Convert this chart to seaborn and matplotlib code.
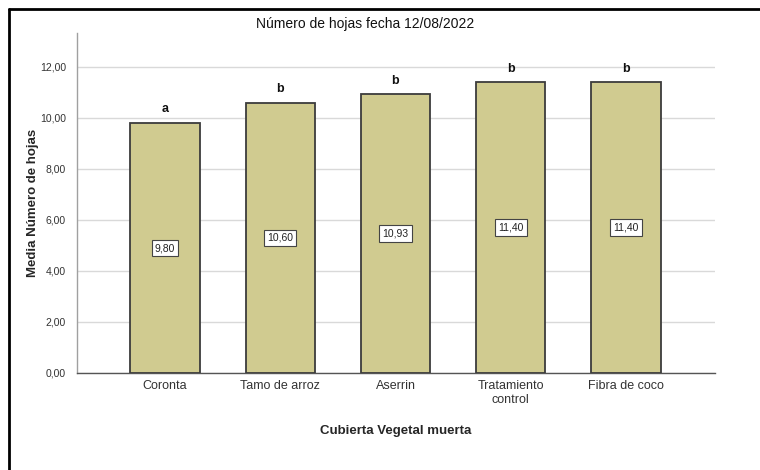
import matplotlib
matplotlib.use("Agg")
import matplotlib.pyplot as plt
import seaborn as sns
import pandas as pd
from matplotlib.lines import Line2D

categories = ["Coronta", "Tamo de arroz", "Aserrin", "Tratamiento\ncontrol", "Fibra de coco"]
values = [9.80, 10.60, 10.93, 11.40, 11.40]
letters = ["a", "b", "b", "b", "b"]
yticks = [0, 2, 4, 6, 8, 10, 12]

sns.set_style("white")
plt.rcParams['font.family'] = ['Liberation Sans', 'DejaVu Sans']

df = pd.DataFrame({"cat": categories, "val": values})

fig = plt.figure(figsize=(7.6, 4.7), dpi=100)
ax = fig.add_axes([77/760, 1-373/470, (715-77)/760, (373-33)/470])

sns.barplot(data=df, x="cat", y="val", ax=ax, color="#d0cb90", width=0.6,
            edgecolor="#3c3c3c", linewidth=1.3, saturation=1, zorder=3)

ax.set_xlim(-0.763, 4.772)
ax.set_ylim(0, 13.33)
ax.set_yticks(yticks)
ax.set_yticklabels([f"{v:.2f}".replace(".", ",") for v in yticks], fontsize=7.5, color="#333333")
ax.yaxis.grid(True, color="#d9d9d9", linewidth=1, zorder=0)
ax.set_axisbelow(True)
ax.tick_params(axis="y", length=5, color="#d9d9d9", pad=3)
ax.tick_params(axis="x", length=0, pad=5, labelsize=9, labelcolor="#333333")

for s in ["top", "right"]:
    ax.spines[s].set_visible(False)
ax.spines["left"].set_color("#a0a0a0")
ax.spines["bottom"].set_color("#555555")
ax.spines["left"].set_linewidth(1)
ax.spines["bottom"].set_linewidth(1)

for i, (v, l) in enumerate(zip(values, letters)):
    ax.text(i, v / 2, f"{v:.2f}".replace(".", ","), ha="center", va="center", fontsize=7.5,
            color="#222222", zorder=5,
            bbox=dict(boxstyle="square,pad=0.3", facecolor="white", edgecolor="#444444", linewidth=0.8))
    ax.text(i, v + 0.3, l, ha="center", va="bottom", fontsize=9, fontweight="bold", color="#111111")

ax.set_xlabel("Cubierta Vegetal muerta", fontsize=9.5, fontweight="bold", labelpad=14)
ax.set_ylabel("Media Número de hojas", fontsize=9.5, fontweight="bold")
ax.yaxis.set_label_coords((39-77)/638, 0.5)

fig.text(365/760, 1-24/470, "Número de hojas fecha 12/08/2022", ha="center", va="center",
         fontsize=10, color="#111111")

# outer frame (top and left)
fig.add_artist(Line2D([9/760, 1.0], [1-9/470, 1-9/470], transform=fig.transFigure,
                      color="black", linewidth=2))
fig.add_artist(Line2D([9/760, 9/760], [0, 1-9/470], transform=fig.transFigure,
                      color="black", linewidth=2))

fig.savefig("out.png", dpi=100)
